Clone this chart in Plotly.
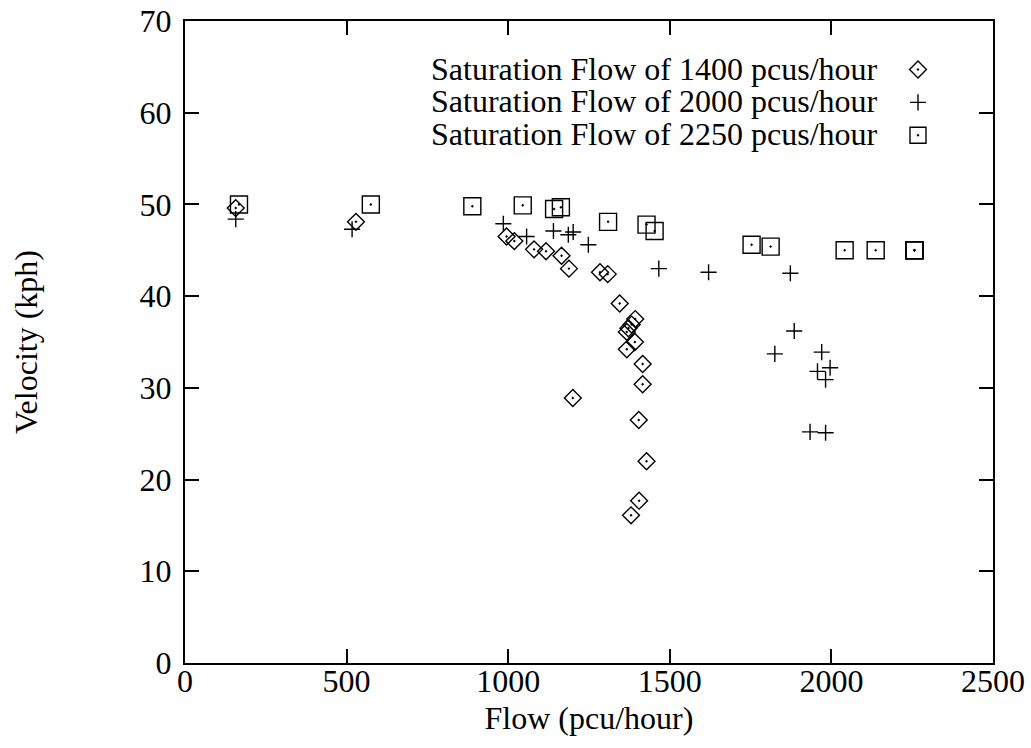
import plotly.graph_objects as go

series_labels = [
    "Saturation Flow of 1400 pcus/hour",
    "Saturation Flow of 2000 pcus/hour",
    "Saturation Flow of 2250 pcus/hour",
]

flow_1400 = [157, 529, 995, 1019, 1080, 1117, 1165, 1188, 1284, 1308, 1345, 1393,
             1382, 1372, 1367, 1392, 1367, 1416, 1416, 1200, 1404, 1428, 1405, 1380]
vel_1400 = [49.6, 48.1, 46.5, 46.0, 45.1, 44.9, 44.4, 43.0, 42.6, 42.4, 39.2, 37.5,
            36.9, 36.5, 36.1, 35.0, 34.2, 32.6, 30.4, 28.9, 26.5, 22.0, 17.7, 16.1]

flow_2000 = [157, 517, 985, 1057, 1140, 1186, 1201, 1248, 1466, 1620, 1873, 1885,
             1825, 1970, 1996, 1957, 1982, 1934, 1982]
vel_2000 = [48.4, 47.3, 47.9, 46.5, 47.1, 46.7, 47.0, 45.6, 43.0, 42.6, 42.5, 36.2,
            33.7, 33.9, 32.2, 31.8, 30.9, 25.2, 25.1]

flow_2250 = [167, 575, 889, 1045, 1142, 1163, 1309, 1428, 1453, 1753, 1812, 2041,
             2137, 2257, 2257, 2257]
vel_2250 = [50.0, 50.0, 49.8, 49.9, 49.5, 49.7, 48.1, 47.8, 47.1, 45.6, 45.4, 45.0,
            45.0, 45.0, 45.0, 45.0]

x_ticks = [0, 500, 1000, 1500, 2000, 2500]
y_ticks = [0, 10, 20, 30, 40, 50, 60, 70]

FONT = "Liberation Serif, Times New Roman, serif"
FS = 32

fig = go.Figure()
specs = [
    (flow_1400, vel_1400, "diamond-open-dot", 13),
    (flow_2000, vel_2000, "cross-thin-open", 11.5),
    (flow_2250, vel_2250, "square-open-dot", 17),
]
for (xs, ys, sym, sz), lab in zip(specs, series_labels):
    fig.add_trace(go.Scatter(
        x=xs, y=ys, mode="markers", name="",
        hovertemplate=lab + "<br>%{x}, %{y}<extra></extra>",
        marker=dict(symbol=sym, size=sz, color="black",
                    line=dict(color="black", width=1.4)),
    ))

# legend texts (right-aligned, symbols come from the real legend)
for i, lab in enumerate(series_labels):
    fig.add_annotation(
        text=lab, xref="paper", yref="paper",
        x=(880 - 185) / (993 - 185), y=(663 - (69 + 32.5 * i)) / (663 - 21),
        xanchor="right", yanchor="middle", showarrow=False,
        font=dict(family=FONT, size=FS, color="black"),
    )

axis_common = dict(
    showline=True, linecolor="black", linewidth=2, mirror="allticks",
    ticks="inside", ticklen=14, tickwidth=2, tickcolor="black",
    showgrid=False, zeroline=False, automargin=False,
    tickfont=dict(family=FONT, size=FS, color="black"),
    title_font=dict(family=FONT, size=FS, color="black"),
)

fig.update_layout(
    width=1031, height=748,
    margin=dict(l=185, r=38, t=21, b=85, autoexpand=False),
    paper_bgcolor="white", plot_bgcolor="white",
    showlegend=True,
    legend=dict(
        x=(919 - 185 - 21) / (993 - 185), y=(663 - 48) / (663 - 21),
        xanchor="left", yanchor="top",
        bgcolor="rgba(0,0,0,0)", borderwidth=0,
        font=dict(family=FONT, size=23, color="black"),
        tracegroupgap=0,
    ),
    xaxis=dict(range=[0, 2500], tickvals=x_ticks, title=dict(text="Flow (pcu/hour)", standoff=8),
               ticklabelstandoff=-11, **axis_common),
    yaxis=dict(range=[0, 70], tickvals=y_ticks, title=dict(text="Velocity (kph)", standoff=92),
               ticklabelstandoff=5, **axis_common),
)

fig.write_html("out.html", config={"displayModeBar": False},
               post_script="document.body.style.margin='0px';")
